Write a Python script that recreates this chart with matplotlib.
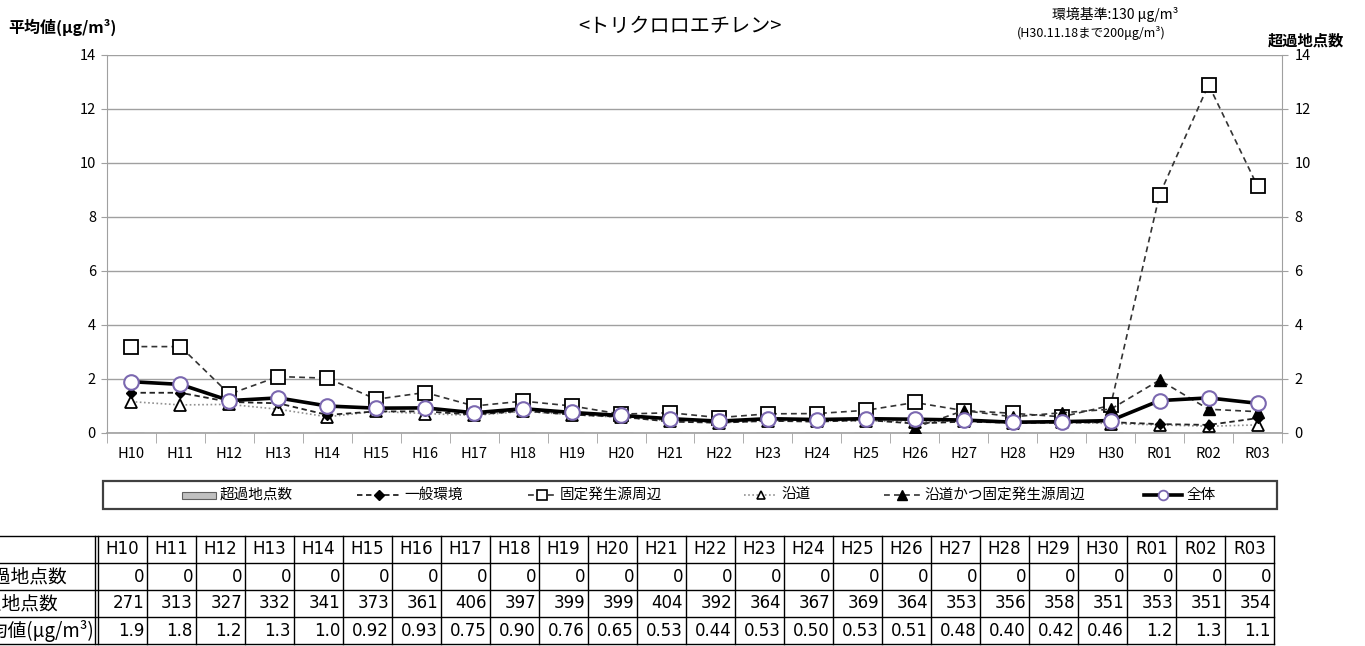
import matplotlib
matplotlib.use('Agg')
import matplotlib.pyplot as plt
from matplotlib.lines import Line2D
from matplotlib.patches import Rectangle
import numpy as np

plt.rcParams['font.family'] = ['Noto Sans CJK JP', 'DejaVu Sans']

# ---------------- data ----------------
years = ['H10', 'H11', 'H12', 'H13', 'H14', 'H15', 'H16', 'H17', 'H18', 'H19', 'H20', 'H21',
         'H22', 'H23', 'H24', 'H25', 'H26', 'H27', 'H28', 'H29', 'H30', 'R01', 'R02', 'R03']
exceed_count = [0, 0, 0, 0, 0, 0, 0, 0, 0, 0, 0, 0, 0, 0, 0, 0, 0, 0, 0, 0, 0, 0, 0, 0]
site_count = [271, 313, 327, 332, 341, 373, 361, 406, 397, 399, 399, 404,
              392, 364, 367, 369, 364, 353, 356, 358, 351, 353, 351, 354]
avg_all = [1.9, 1.8, 1.2, 1.3, 1.0, 0.92, 0.93, 0.75, 0.90, 0.76, 0.65, 0.53,
           0.44, 0.53, 0.50, 0.53, 0.51, 0.48, 0.40, 0.42, 0.46, 1.2, 1.3, 1.1]
avg_general = [1.49, 1.49, 1.15, 1.1, 0.67, 0.8, 0.8, 0.68, 0.82, 0.68, 0.6, 0.42,
               0.38, 0.45, 0.42, 0.48, 0.35, 0.42, 0.38, 0.38, 0.4, 0.33, 0.3, 0.55]
avg_fixed = [3.2, 3.2, 1.44, 2.09, 2.03, 1.25, 1.5, 1.0, 1.18, 1.0, 0.7, 0.75,
             0.57, 0.71, 0.72, 0.84, 1.13, 0.83, 0.73, 0.6, 1.02, 8.83, 12.9, 9.14]
avg_road = [1.16, 1.04, 1.06, 0.88, 0.6, 0.8, 0.72, 0.65, 0.8, 0.68, 0.58, 0.45,
            0.38, 0.45, 0.45, 0.45, 0.42, 0.45, 0.38, 0.4, 0.35, 0.3, 0.25, 0.3]
avg_road_fixed = [np.nan] * 16 + [0.2, 0.83, 0.6, 0.75, 0.88, 1.96, 0.88, 0.79]

legend_labels = ['超過地点数', '一般環境', '固定発生源周辺', '沿道', '沿道かつ固定発生源周辺', '全体']
row_labels = ['超過地点数', '測定地点数', '平均値(μg/m³)']


def fmt_avg(v):
    return f'{v:.1f}' if v >= 1 else f'{v:.2f}'


# ---------------- figure ----------------
W, H = 1365, 646
fig = plt.figure(figsize=(W / 100, H / 100), dpi=100)


def fx(px):
    return px / W


def fy(py):
    return 1 - py / H


GRID = '#a0a0a0'
ax_l, ax_r, ax_t, ax_b = 107, 1282, 55, 433
ax = fig.add_axes([fx(ax_l), fy(ax_b), fx(ax_r - ax_l), (ax_b - ax_t) / H])
x = np.arange(len(years))

ax2 = ax.twinx()
ax2.bar(x, exceed_count, width=0.5, color='#c0c0c0', edgecolor='#606060')
ax2.set_ylim(0, 14)
ax2.set_yticks(np.arange(0, 15, 2))
ax2.tick_params(axis='y', length=4, color=GRID, pad=5, labelsize=10.5)
for s in ['top', 'left', 'bottom']:
    ax2.spines[s].set_visible(False)
ax2.spines['right'].set_color(GRID)

ax.set_zorder(ax2.get_zorder() + 1)
ax.patch.set_visible(False)

ax.plot(x, avg_road, ls=(0, (1, 1.5)), color='#909090', lw=1.2, marker='^', ms=8,
        mfc='white', mec='black', mew=1.3, zorder=3)
ax.plot(x, avg_general, ls=(0, (3, 2)), color='#222222', lw=1.3, marker='D', ms=5.5,
        mfc='black', mec='black', zorder=4)
ax.plot(x, avg_fixed, ls=(0, (3.5, 2.5)), color='#333333', lw=1.2, marker='s', ms=10,
        mfc='white', mec='black', mew=1.3, zorder=4)
ax.plot(x, avg_road_fixed, ls=(0, (3.5, 2.5)), color='#333333', lw=1.2, marker='^', ms=9,
        mfc='black', mec='black', zorder=5)
ax.plot(x, avg_all, ls='-', color='black', lw=2.6, marker='o', ms=10.5,
        mfc='white', mec='#7b68b0', mew=1.5, zorder=6)

ax.set_xlim(-0.5, len(years) - 0.5)
ax.set_ylim(0, 14)
ax.set_yticks(np.arange(0, 15, 2))
ax.yaxis.grid(True, color=GRID, lw=1)
ax.set_axisbelow(True)
ax.tick_params(axis='y', length=4, color=GRID, pad=4, labelsize=10.5)
ax.set_xticks(x)
ax.set_xticklabels(years)
ax.set_xticks(np.arange(-0.5, len(years), 1), minor=True)
ax.tick_params(axis='x', which='major', length=0, pad=10, labelsize=10.5)
ax.tick_params(axis='x', which='minor', length=7, color=GRID, direction='out')
for s in ['top', 'right']:
    ax.spines[s].set_visible(False)
ax.spines['left'].set_color(GRID)
ax.spines['bottom'].set_color(GRID)
ax.spines['bottom'].set_linewidth(1.2)

# ---------------- header texts ----------------
fig.text(fx(8), fy(27), '平均値(μg/m³)', fontsize=11.5, fontweight='bold', ha='left', va='center')
fig.text(fx(680), fy(26), '<トリクロロエチレン>', fontsize=14.5, ha='center', va='center')
fig.text(fx(1052), fy(15), '環境基準:130 μg/m³', fontsize=10, ha='left', va='center')
fig.text(fx(1017), fy(33), '(H30.11.18まで200μg/m³)', fontsize=9, ha='left', va='center')
fig.text(fx(1306), fy(41), '超過地点数', fontsize=11, fontweight='bold', ha='center', va='center')

# ---------------- legend ----------------
lg_t, lg_b, lg_l, lg_r = 481, 509, 103, 1277
fig.add_artist(Rectangle((fx(lg_l), fy(lg_b)), fx(lg_r - lg_l), (lg_b - lg_t) / H,
                         transform=fig.transFigure, fill=False, edgecolor='#404040', lw=1.6))
ly = fy((lg_t + lg_b) / 2)
fs_leg = 10.5
# entry 1: bar
fig.add_artist(Rectangle((fx(182), ly - 3.5 / H), fx(34), 7 / H, transform=fig.transFigure,
                         facecolor='#c0c0c0', edgecolor='#606060', lw=0.8))
fig.text(fx(220), ly, legend_labels[0], fontsize=fs_leg, ha='left', va='center')
# line entries
entries = [
    (357, 400, dict(ls=(0, (3, 2)), color='#222222', lw=1.3, marker='D', ms=5, mfc='black', mec='black')),
    (528, 556, dict(ls=(0, (3.5, 2.5)), color='#333333', lw=1.2, marker='s', ms=7, mfc='white', mec='black', mew=1.2)),
    (744, 777, dict(ls=(0, (1, 1.5)), color='#909090', lw=1.2, marker='^', ms=6, mfc='white', mec='black', mew=1.2)),
    (884, 920, dict(ls=(0, (3.5, 2.5)), color='#333333', lw=1.2, marker='^', ms=7, mfc='black', mec='black')),
    (1144, 1182, dict(ls='-', color='black', lw=2.6, marker='o', ms=7, mfc='white', mec='#7b68b0', mew=1.3)),
]
for i, (a, b, st) in enumerate(entries):
    fig.add_artist(Line2D([fx(a), fx(b)], [ly, ly], transform=fig.transFigure,
                          ls=st['ls'], color=st['color'], lw=st['lw']))
    fig.add_artist(Line2D([fx((a + b) / 2)], [ly], transform=fig.transFigure, ls='none',
                          marker=st['marker'], ms=st['ms'], mfc=st['mfc'], mec=st['mec'], mew=st.get('mew', 1)))
    fig.text(fx(b + 4), ly, legend_labels[i + 1], fontsize=fs_leg, ha='left', va='center')

# ---------------- table ----------------
row_edges = [536, 563, 590, 617, 644]
col0_r = 95
col_start = 98
col_w = 49
ncol = len(years)
tab_r = col_start + ncol * col_w
lw_t = 1.0
for yy in row_edges:
    fig.add_artist(Line2D([0, fx(tab_r)], [fy(yy), fy(yy)], transform=fig.transFigure, color='black', lw=lw_t))
for xx in [col0_r] + [col_start + k * col_w for k in range(ncol + 1)]:
    fig.add_artist(Line2D([fx(xx), fx(xx)], [fy(row_edges[0]), fy(row_edges[-1])],
                          transform=fig.transFigure, color='black', lw=lw_t))

row_text = [[str(v) for v in exceed_count],
            [str(v) for v in site_count],
            [fmt_avg(v) for v in avg_all]]
hy = fy((row_edges[0] + row_edges[1]) / 2)
for k, yr in enumerate(years):
    cx = col_start + k * col_w + col_w / 2
    fig.text(fx(cx), hy, yr, fontsize=12, ha='center', va='center', family='DejaVu Sans')
label_x = [-26, -36, -30]
for r in range(3):
    cy = fy((row_edges[r + 1] + row_edges[r + 2]) / 2)
    fig.text(fx(label_x[r]), cy, row_labels[r], fontsize=13.5, ha='left', va='center')
    for k in range(ncol):
        rx = col_start + (k + 1) * col_w - 3
        fig.text(fx(rx), cy, row_text[r][k], fontsize=12, ha='right', va='center', family='DejaVu Sans')

fig.savefig('out.png', dpi=100)
